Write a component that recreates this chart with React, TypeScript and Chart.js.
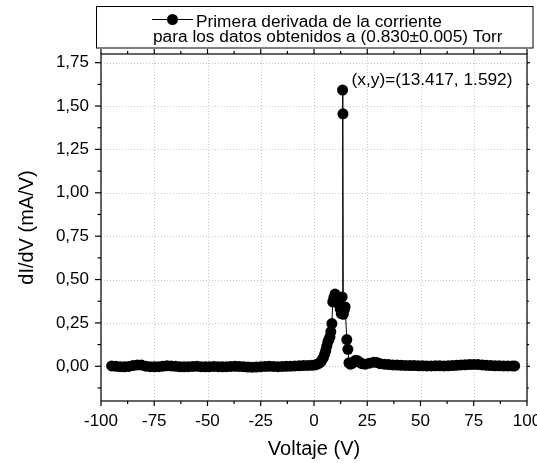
import React, { useEffect, useRef } from 'react';
import { Chart, registerables } from 'chart.js';

Chart.register(...registerables);

// ---- data ----
const voltage = [
  -95, -93, -91, -89, -87, -85, -83, -81, -79, -77, -75, -73, -71, -69, -67, -65,
  -63, -61, -59, -57, -55, -53, -51, -49, -47, -45, -43, -41, -39, -37, -35, -33,
  -31, -29, -27, -25, -23, -21, -19, -17, -15, -13, -11, -9, -7, -5, -3, -1,
  0.5, 1.5, 2.5, 3.2, 3.7, 4.4, 5.0, 5.5, 6.0, 6.5, 7.0, 7.5, 7.9, 8.4, 8.8, 9.3,
  9.9, 10.5, 11.2, 11.8, 12.3, 12.8, 13.2, 13.417, 13.6, 13.75, 14.2, 14.6, 15.4,
  15.9, 16.4, 17, 17.8, 18.7, 19.6, 20.5, 21.5, 22.5, 24, 26, 28, 29.5, 31, 33,
  35, 37, 39, 41, 43, 45, 47, 49, 51, 53, 55, 57, 59, 61, 63, 65, 67, 69, 71, 73,
  75, 77, 79, 81, 83, 85, 87, 89, 91, 93, 94.2,
];
const dIdV = [
  0.002, 0.0, -0.002, -0.003, -0.001, 0.004, 0.008, 0.007, 0.001, -0.002, -0.003, -0.002, 0.001, 0.003, 0.002, 0.0,
  -0.002, -0.003, -0.002, -0.001, 0.0, -0.002, -0.003, -0.002, -0.001, -0.002, -0.003, -0.002, -0.001, 0.0, -0.001, -0.002,
  -0.004, -0.005, -0.004, -0.002, -0.001, 0.0, -0.001, -0.002, -0.001, 0.0, 0.001, 0.002, 0.003, 0.004, 0.005, 0.006,
  0.008, 0.012, 0.018, 0.026, 0.035, 0.05, 0.07, 0.09, 0.115, 0.14, 0.155, 0.17, 0.2, 0.246, 0.371, 0.395,
  0.416, 0.385, 0.365, 0.355, 0.33, 0.304, 0.4, 1.592, 1.455, 0.3, 0.325, 0.342, 0.154,
  0.098, 0.02, 0.012, 0.015, 0.025, 0.035, 0.032, 0.022, 0.015, 0.012, 0.018, 0.024, 0.022, 0.015, 0.012,
  0.01, 0.008, 0.007, 0.006, 0.005, 0.004, 0.004, 0.003, 0.003, 0.002, 0.002, 0.003, 0.003, 0.002, 0.003, 0.004, 0.006, 0.008, 0.009, 0.01,
  0.011, 0.01, 0.008, 0.006, 0.004, 0.003, 0.003, 0.002, 0.002, 0.002, 0.002,
];

const xTicks = [-100, -75, -50, -25, 0, 25, 50, 75, 100];
const xMinorTicks = [-87.5, -62.5, -37.5, -12.5, 12.5, 37.5, 62.5, 87.5];
const yTicks = [0, 0.25, 0.5, 0.75, 1.0, 1.25, 1.5, 1.75];
const yMinorTicks = [-0.125, 0.125, 0.375, 0.625, 0.875, 1.125, 1.375, 1.625];

const xTitle = 'Voltaje (V)';
const yTitle = 'dI/dV (mA/V)';
const legendLine1 = 'Primera derivada de la corriente';
const legendLine2 = 'para los datos obtenidos a (0.830±0.005) Torr';
const peakX = [13.417];
const peakY = [1.592];
const peakLabel = '(x,y)=(13.417, 1.592)';

const FONT = "'Liberation Sans', Arial, sans-serif";

const framePlugin = {
  id: 'originFrame',
  beforeDatasetsDraw(chart: any) {
    const { ctx, chartArea: a, scales } = chart;
    const xs = scales.x, ys = scales.y;
    ctx.save();
    ctx.strokeStyle = '#c8c8c8';
    ctx.lineWidth = 1;
    ctx.setLineDash([1, 2]);
    xTicks.forEach((v) => {
      const px = Math.round(xs.getPixelForValue(v)) + 0.5;
      ctx.beginPath();
      ctx.moveTo(px, a.top);
      ctx.lineTo(px, a.bottom);
      ctx.stroke();
    });
    yTicks.forEach((v) => {
      const py = Math.round(ys.getPixelForValue(v)) + 0.5;
      ctx.beginPath();
      ctx.moveTo(a.left, py);
      ctx.lineTo(a.right, py);
      ctx.stroke();
    });
    ctx.restore();
  },
  afterDraw(chart: any) {
    const { ctx, chartArea: a, scales } = chart;
    const xs = scales.x, ys = scales.y;
    ctx.save();
    ctx.strokeStyle = '#000';
    ctx.lineWidth = 1.2;
    ctx.setLineDash([]);
    ctx.strokeRect(a.left, a.top, a.right - a.left, a.bottom - a.top);
    const tick = (x1: number, y1: number, x2: number, y2: number) => {
      ctx.beginPath();
      ctx.moveTo(x1, y1);
      ctx.lineTo(x2, y2);
      ctx.stroke();
    };
    xTicks.forEach((v) => {
      const px = xs.getPixelForValue(v);
      tick(px, a.bottom, px, a.bottom + 5);
      tick(px, a.top, px, a.top - 5);
    });
    xMinorTicks.forEach((v) => {
      const px = xs.getPixelForValue(v);
      tick(px, a.bottom, px, a.bottom + 3);
      tick(px, a.top, px, a.top - 3);
    });
    yTicks.forEach((v) => {
      const py = ys.getPixelForValue(v);
      tick(a.left, py, a.left - 6, py);
      tick(a.right, py, a.right + 3, py);
    });
    yMinorTicks.forEach((v) => {
      const py = ys.getPixelForValue(v);
      tick(a.left, py, a.left - 3.5, py);
      tick(a.right, py, a.right + 2, py);
    });

    // peak annotation
    ctx.fillStyle = '#000';
    ctx.font = `17.3px ${FONT}`;
    ctx.textBaseline = 'middle';
    ctx.textAlign = 'left';
    const ppx = xs.getPixelForValue(peakX[0]);
    const ppy = ys.getPixelForValue(peakY[0]);
    ctx.fillText(peakLabel, ppx + 9, ppy - 10);

    // legend box
    ctx.lineWidth = 1;
    ctx.fillStyle = '#fff';
    ctx.fillRect(96.5, 6.5, 436.5, 41.5);
    ctx.strokeStyle = '#000';
    ctx.strokeRect(96.5, 6.5, 436.5, 41.5);
    ctx.beginPath();
    ctx.moveTo(152, 19.5);
    ctx.lineTo(193, 19.5);
    ctx.stroke();
    ctx.fillStyle = '#000';
    ctx.beginPath();
    ctx.arc(172.5, 19.5, 5.5, 0, Math.PI * 2);
    ctx.fill();
    ctx.textBaseline = 'alphabetic';
    ctx.fillText(legendLine1, 196, 26.5);
    ctx.fillText(legendLine2, 153, 42);
    ctx.restore();
  },
};

export default function App() {
  const ref = useRef<HTMLCanvasElement | null>(null);
  useEffect(() => {
    if (!ref.current) return;
    const points = voltage.map((v, i) => ({ x: v, y: dIdV[i] }));
    const chart = new Chart(ref.current, {
      type: 'scatter',
      data: {
        datasets: [
          {
            label: legendLine1,
            data: points,
            showLine: true,
            borderColor: '#000',
            borderWidth: 1,
            pointRadius: 5.5,
            pointBackgroundColor: '#000',
            pointBorderWidth: 0,
            pointBorderColor: '#000',
          },
        ],
      },
      options: {
        responsive: false,
        animation: false,
        layout: { padding: { top: 54, right: 10, left: 0, bottom: 0 } },
        plugins: { legend: { display: false }, tooltip: { enabled: false } },
        scales: {
          x: {
            type: 'linear',
            min: -100,
            max: 100,
            grid: { display: false, drawTicks: false },
            border: { display: false },
            afterBuildTicks: (s: any) => {
              s.ticks = xTicks.map((value) => ({ value }));
            },
            ticks: {
              color: '#000',
              font: { family: FONT, size: 17 },
              padding: 10,
              maxRotation: 0,
              autoSkip: false,
              callback: (v: any) => String(v),
            },
            title: {
              display: true,
              text: xTitle,
              color: '#000',
              font: { family: FONT, size: 20 },
              padding: { top: 0, bottom: 2 },
            },
            afterFit: (s: any) => {
              s.height = 62;
              s.paddingLeft = 0;
              s.paddingRight = 0;
            },
          },
          y: {
            type: 'linear',
            min: -0.2,
            max: 1.8,
            grid: { display: false, drawTicks: false },
            border: { display: false },
            afterBuildTicks: (s: any) => {
              s.ticks = yTicks.map((value) => ({ value }));
            },
            ticks: {
              color: '#000',
              font: { family: FONT, size: 17 },
              padding: 12,
              autoSkip: false,
              callback: (v: any) => Number(v).toFixed(2).replace('.', ','),
            },
            title: {
              display: true,
              text: yTitle,
              color: '#000',
              font: { family: FONT, size: 20 },
              padding: { top: 15, bottom: 0 },
            },
            afterFit: (s: any) => {
              s.width = 101;
              s.paddingTop = 0;
              s.paddingBottom = 0;
            },
          },
        },
      },
      plugins: [framePlugin],
    } as any);
    return () => chart.destroy();
  }, []);
  return (
    <div style={{ position: 'absolute', left: 0, top: 0, width: 537, height: 463, background: '#fff' }}>
      <canvas ref={ref} width={537} height={463} style={{ display: 'block' }} />
    </div>
  );
}
